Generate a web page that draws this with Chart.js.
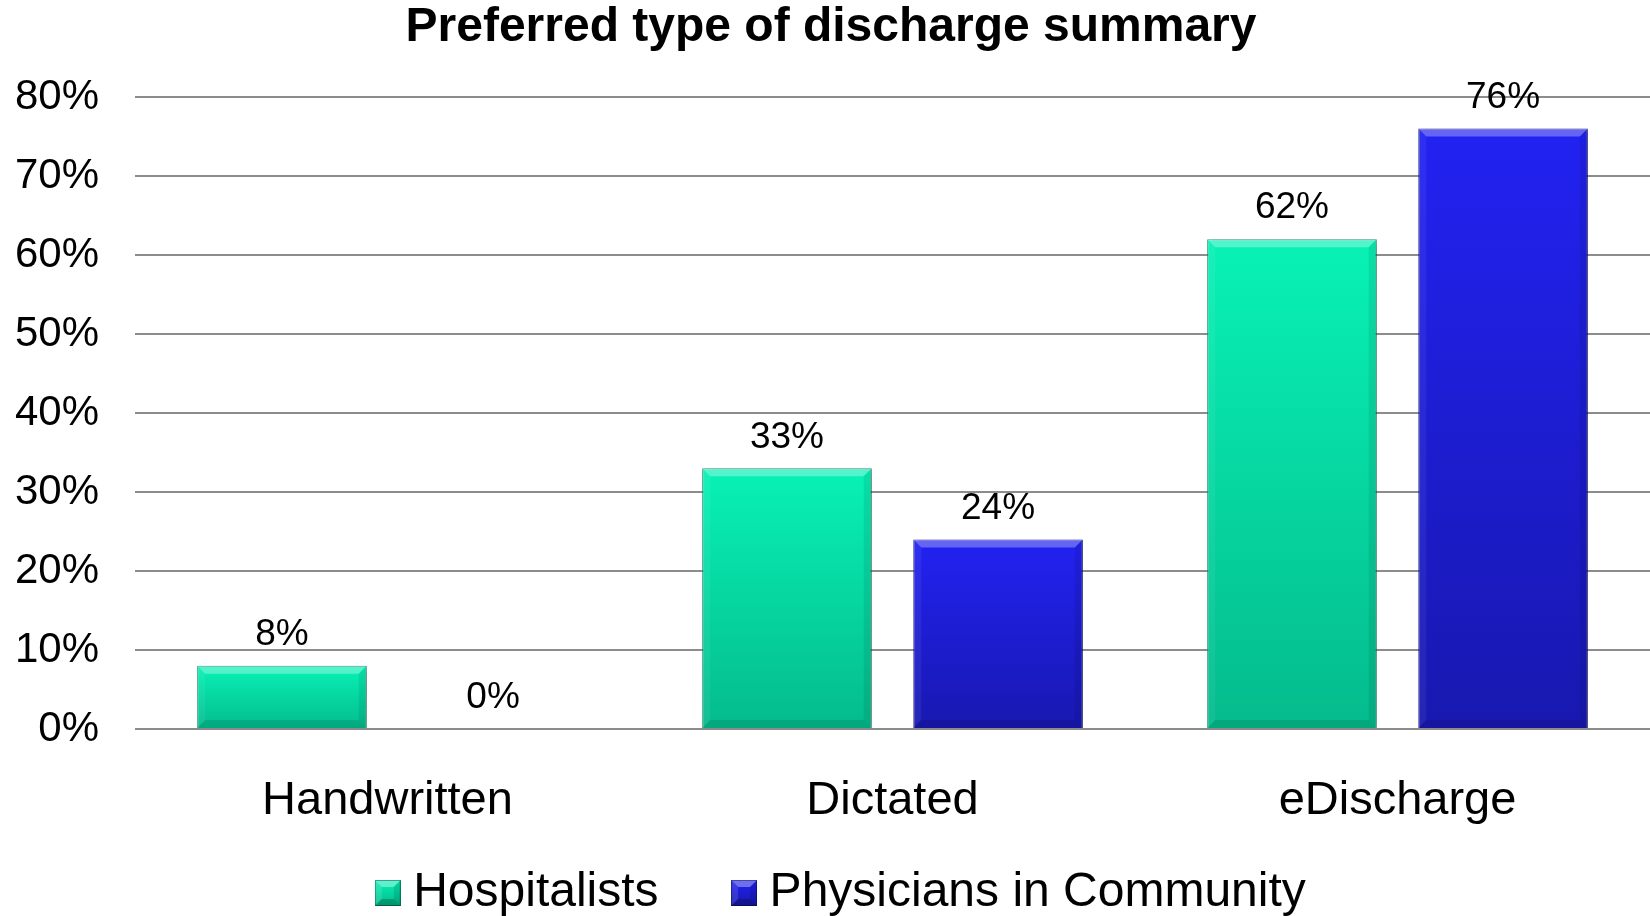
<!DOCTYPE html>
<html>
<head>
<meta charset="utf-8">
<title>Preferred type of discharge summary</title>
<script src="https://cdn.jsdelivr.net/npm/chart.js@4.4.1/dist/chart.umd.min.js"></script>
<style>
    html, body { margin: 0; padding: 0; background: #ffffff; }
    #wrap { width: 1650px; height: 916px; position: relative; }
</style>
</head>
<body>
<div id="wrap"><canvas id="chart"></canvas></div>
<script>
// Survey results: share of respondents preferring each summary type
const categories = ['Handwritten', 'Dictated', 'eDischarge'];
const seriesNames = ['Hospitalists', 'Physicians in Community'];
const hospitalists = [8, 33, 62];
const community = [0, 24, 76];
const yTicks = [0, 10, 20, 30, 40, 50, 60, 70, 80];

const FONT = '"Liberation Sans", Arial, Helvetica, sans-serif';

// top / bottom shades of each series
const greenShades = ['#08f2b6', '#04bb8c'];
const blueShades = ['#2222f2', '#1818b0'];

// Vertical gradient per bar, from its top down to the baseline
function barFill(shades) {
    return function(context) {
        const chart = context.chart;
        if (context.type !== 'data' || !chart.chartArea || !chart.scales.y) return shades[0];
        const yScale = chart.scales.y;
        const top = yScale.getPixelForValue(context.parsed.y);
        const bottom = yScale.getPixelForValue(0);
        if (bottom - top < 1) return shades[0];
        const g = chart.ctx.createLinearGradient(0, top, 0, bottom);
        g.addColorStop(0, shades[0]);
        g.addColorStop(1, shades[1]);
        return g;
    };
}

function fillFace(ctx, pts, color) {
    ctx.beginPath();
    pts.forEach((p, i) => i ? ctx.lineTo(p[0], p[1]) : ctx.moveTo(p[0], p[1]));
    ctx.closePath();
    ctx.fillStyle = color;
    ctx.fill();
}

// Small bevelled square used as legend marker
function legendSwatch(shades) {
    const size = 26, b = 7;
    const c = document.createElement('canvas');
    c.width = size;
    c.height = size;
    const x = c.getContext('2d');
    const g = x.createLinearGradient(0, 0, 0, size);
    g.addColorStop(0, shades[0]);
    g.addColorStop(1, shades[1]);
    x.fillStyle = g;
    x.fillRect(0, 0, size, size);
    fillFace(x, [[0, 0], [size, 0], [size - b, b], [b, b]], 'rgba(255,255,255,0.35)');
    fillFace(x, [[0, 0], [b, b], [b, size - b], [0, size]], 'rgba(255,255,255,0.12)');
    fillFace(x, [[size, 0], [size, size], [size - b, size - b], [size - b, b]], 'rgba(0,0,0,0.12)');
    fillFace(x, [[0, size], [size, size], [size - b, size - b], [b, size - b]], 'rgba(0,0,0,0.22)');
    x.strokeStyle = 'rgba(0,0,0,0.35)';
    x.lineWidth = 1;
    x.strokeRect(0.5, 0.5, size - 1, size - 1);
    return c;
}

const swatches = [legendSwatch(greenShades), legendSwatch(blueShades)];

// Drop shadow under bars, bevel faces, value labels and category names
const barDecor = {
    id: 'barDecor',
    afterLayout(chart) {
        // legend row sits a little right of the canvas centre
        chart.legend.left += 15;
        chart.legend.right += 15;
    },
    beforeDatasetsDraw(chart) {
        const ctx = chart.ctx;
        ctx.save();
        ctx.shadowColor = 'rgba(0,0,0,0.25)';
        ctx.shadowBlur = 7;
        ctx.shadowOffsetX = 4;
        ctx.shadowOffsetY = 1;
    },
    afterDatasetsDraw(chart) {
        const ctx = chart.ctx;
        ctx.restore();

        chart.data.datasets.forEach((ds, i) => {
            const meta = chart.getDatasetMeta(i);
            meta.data.forEach((bar, j) => {
                const p = bar.getProps(['x', 'y', 'base', 'width'], true);
                const l = p.x - p.width / 2, r = p.x + p.width / 2;
                const t = p.y, bt = p.base;
                const h = bt - t;
                if (h >= 2) {
                    const b = Math.min(8, h / 3);
                    fillFace(ctx, [[l, t], [r, t], [r - b, t + b], [l + b, t + b]], 'rgba(255,255,255,0.3)');
                    fillFace(ctx, [[l, t], [l + b, t + b], [l + b, bt - b], [l, bt]], 'rgba(255,255,255,0.06)');
                    fillFace(ctx, [[r, t], [r, bt], [r - b, bt - b], [r - b, t + b]], 'rgba(0,0,0,0.08)');
                    fillFace(ctx, [[l, bt], [r, bt], [r - b, bt - b], [l + b, bt - b]], 'rgba(0,0,0,0.1)');
                }
                // value label
                ctx.save();
                ctx.font = '37px ' + FONT;
                ctx.fillStyle = '#000000';
                ctx.textAlign = 'center';
                ctx.textBaseline = 'middle';
                ctx.fillText(ds.data[j] + '%', p.x, t - 31);
                ctx.restore();
            });
        });
    },
    afterDraw(chart) {
        // category names under the axis
        const ctx = chart.ctx;
        const xScale = chart.scales.x;
        ctx.save();
        ctx.font = '47px ' + FONT;
        ctx.fillStyle = '#000000';
        ctx.textAlign = 'center';
        ctx.textBaseline = 'alphabetic';
        categories.forEach((name, i) => {
            ctx.fillText(name, xScale.getPixelForValue(i), chart.chartArea.bottom + 85);
        });
        ctx.restore();
    }
};

new Chart(document.getElementById('chart'), {
    type: 'bar',
    data: {
        labels: categories,
        datasets: [
            {
                label: seriesNames[0],
                data: hospitalists,
                backgroundColor: barFill(greenShades),
                borderColor: '#07845f',
                borderWidth: 1,
                categoryPercentage: 0.836,
                barPercentage: 0.803
            },
            {
                label: seriesNames[1],
                data: community,
                backgroundColor: barFill(blueShades),
                borderColor: '#0d0d80',
                borderWidth: 1,
                categoryPercentage: 0.836,
                barPercentage: 0.803
            }
        ]
    },
    options: {
        responsive: true,
        maintainAspectRatio: false,
        animation: false,
        layout: {
            padding: { left: 12, right: 0, top: 0, bottom: -11 }
        },
        scales: {
            x: {
                grid: { display: false, drawTicks: false },
                border: { display: false },
                ticks: { display: false },
                afterFit(scale) { scale.height = 56; }
            },
            y: {
                min: 0,
                max: yTicks[yTicks.length - 1],
                afterBuildTicks(scale) {
                    scale.ticks = yTicks.map(v => ({ value: v }));
                },
                grid: { color: '#8c8c8c', lineWidth: 2, drawTicks: false },
                border: { display: false },
                ticks: {
                    color: '#000000',
                    padding: 36,
                    font: { family: FONT, size: 42 },
                    callback: v => v + '%'
                },
                afterFit(scale) { scale.width = 123; }
            }
        },
        plugins: {
            title: {
                display: true,
                text: 'Preferred type of discharge summary',
                color: '#000000',
                font: { family: FONT, size: 48, weight: 'bold', lineHeight: 1 },
                padding: { top: 4, bottom: 45 }
            },
            legend: {
                position: 'bottom',
                labels: {
                    color: '#000000',
                    font: { family: FONT, size: 48 },
                    padding: 84,
                    usePointStyle: true,
                    pointStyleWidth: 3,
                    generateLabels(chart) {
                        const items = Chart.defaults.plugins.legend.labels.generateLabels(chart);
                        items.forEach((item, i) => { item.pointStyle = swatches[i]; });
                        return items;
                    }
                }
            },
            tooltip: { enabled: false }
        }
    },
    plugins: [barDecor]
});
</script>
</body>
</html>
